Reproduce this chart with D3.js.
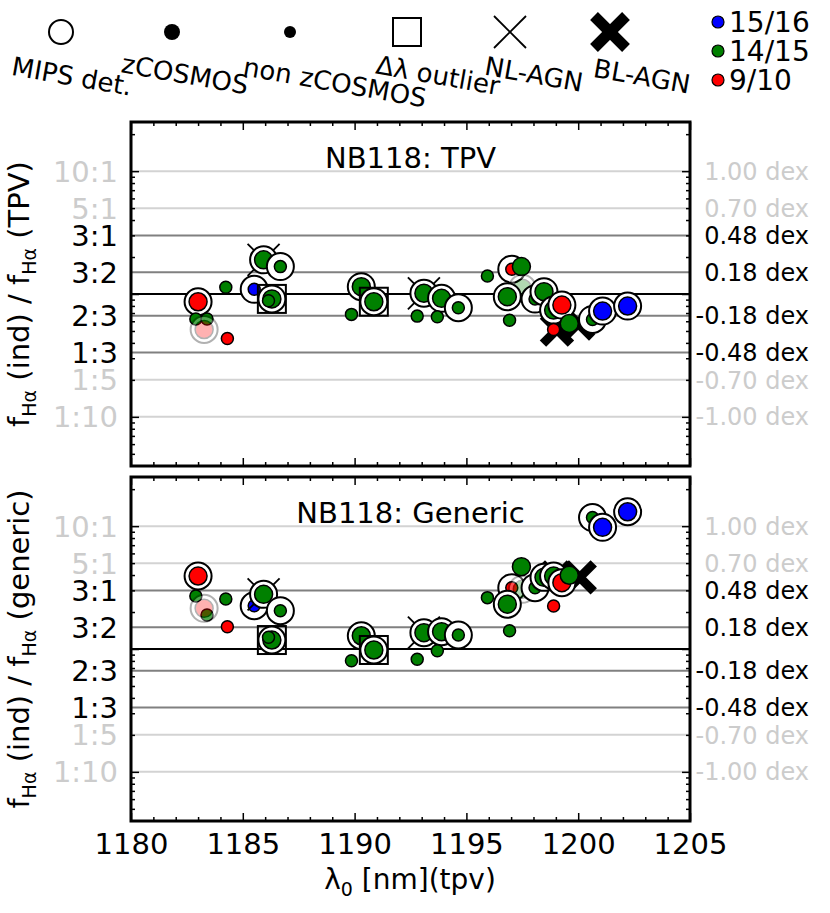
<!DOCTYPE html>
<html><head><meta charset="utf-8">
<script src="https://cdn.jsdelivr.net/npm/d3@7"></script>
<style>body{margin:0;background:#fff}svg{font-family:"DejaVu Sans",sans-serif}</style>
</head><body><svg id="c" width="830" height="913"></svg>
<script>
// ---- data ----
const lam        = [1183.0,1182.9,1183.4,1183.27,1184.31,1184.24,1185.51,1185.93,1186.68,1186.3,1186.15,1190.3,1190.86,1189.86,1193.1,1193.89,1193.7,1192.8,1194.64,1195.94,1197.03,1197.46,1197.5,1196.83,1196.93,1198.07,1198.47,1198.9,1199.27,1198.9,1199.6,1200.64,1201.09,1202.21];
const dexTPV     = [-0.063,-0.204,-0.204,-0.289,-0.362,0.055,0.038,0.278,0.223,-0.04,-0.055,0.06,-0.063,-0.166,0.006,-0.035,-0.186,-0.18,-0.112,0.147,0.202,0.223,0.047,-0.022,-0.213,-0.041,0.019,-0.131,-0.09,-0.289,-0.24,-0.207,-0.139,-0.098];
const dexGeneric = [0.594,0.431,0.277,0.331,0.181,0.407,0.352,0.445,0.312,0.073,0.095,0.108,-0.008,-0.095,0.133,0.141,-0.014,-0.084,0.114,0.418,0.499,0.670,0.486,0.365,0.149,0.499,0.583,0.594,0.54,0.35,0.60,1.07,0.99,1.117];
const zClass     = ["9/10","14/15","14/15","9/10","9/10","14/15","15/16","14/15","14/15","14/15","14/15","14/15","14/15","14/15","14/15","14/15","14/15","14/15","14/15","14/15","9/10","14/15","14/15","14/15","14/15","14/15","14/15","14/15","9/10","9/10","14/15","14/15","15/16","15/16"];
const zCOSMOS    = [1,0,0,1,0,0,0,1,0,1,0,1,1,0,1,1,0,0,0,0,0,1,1,1,0,0,1,1,1,0,1,0,1,1];
const mipsDet    = [1,0,0,1,0,0,1,1,1,1,0,1,1,0,1,1,0,0,1,0,1,0,1,1,0,1,1,1,1,0,0,1,1,1];
const dlOutlier  = [0,0,0,0,0,0,0,0,0,1,0,0,1,0,0,0,0,0,0,0,0,0,0,0,0,0,0,0,0,0,0,0,0,0];
const nlAGN      = [0,0,0,0,0,0,0,1,0,0,0,0,0,0,1,0,0,0,0,0,0,0,0,0,0,0,0,0,0,0,0,0,0,0];
const faded      = [0,0,0,1,0,0,0,0,0,0,0,0,0,0,0,0,0,0,0,0,0,0,1,0,0,0,0,0,0,0,0,0,0,0];
const blLamTPV = [1199.05,1200.0], blDexTPV = [-0.29,-0.24];
const blLamGen = [1199.0,1200.07], blDexGen = [0.583,0.583];
const classes = ["15/16","14/15","9/10"];
const classColors = ["#0000ff","#008000","#ff0000"];
const ratioVals   = [10,5,3,1.5,2/3,1/3,0.2,0.1];
const ratioLabels = ["10:1","5:1","3:1","3:2","2:3","1:3","1:5","1:10"];
const dexLabels   = [" 1.00 dex"," 0.70 dex"," 0.48 dex"," 0.18 dex","-0.18 dex","-0.48 dex","-0.70 dex","-1.00 dex"];
const labelFaint  = [1,1,0,0,0,0,1,1];
const xTicks = [1180,1185,1190,1195,1200,1205];
const legendNames = ["MIPS det.","zCOSMOS","non zCOSMOS","\u0394\u03bb outlier","NL-AGN","BL-AGN"];

// ---- layout ----
const svg = d3.select("#c");
const L = 131, R = 690;
const x = d3.scaleLinear().domain([1180,1205]).range([L,R]);
const col = d3.scaleOrdinal().domain(classes).range(classColors);
const faint = "#cccccc";

function panel(top, bottom, dex, blL, blD, title, ytitle, showX) {
  const y = d3.scaleLog().domain([Math.pow(10,-1.4), Math.pow(10,1.4)]).range([bottom, top]);
  const Y = d => y(Math.pow(10, d));
  const g = svg.append("g");
  const lineVals = [1, ...ratioVals];
  lineVals.forEach((v,i) => {
    const idx = i - 1;
    const c = v === 1 ? "#000" : (labelFaint[idx] ? "#d3d3d3" : "#808080");
    g.append("line").attr("x1",L).attr("x2",R).attr("y1",y(v)).attr("y2",y(v))
      .attr("stroke",c).attr("stroke-width",2);
  });
  const m = g.append("g");
  lam.forEach((l,i) => {
    const px = x(l), py = Y(dex[i]);
    const pg = m.append("g").attr("opacity", faded[i] ? 0.3 : 1);
    if (dlOutlier[i]) pg.append("rect").attr("x",px-14).attr("y",py-14).attr("width",28).attr("height",28)
        .attr("fill","none").attr("stroke","#000").attr("stroke-width",2);
    if (nlAGN[i]) { [[-1,-1,1,1],[-1,1,1,-1]].forEach(s => pg.append("line")
        .attr("x1",px+s[0]*16).attr("y1",py+s[1]*16).attr("x2",px+s[2]*16).attr("y2",py+s[3]*16)
        .attr("stroke","#000").attr("stroke-width",1.8)); }
    if (mipsDet[i]) pg.append("circle").attr("cx",px).attr("cy",py).attr("r",13.5)
        .attr("fill","#fff").attr("stroke","#000").attr("stroke-width",2);
    pg.append("circle").attr("cx",px).attr("cy",py).attr("r", zCOSMOS[i] ? 9 : 6)
      .attr("fill", col(zClass[i])).attr("stroke","#000").attr("stroke-width",1.5);
  });
  blL.forEach((l,i) => {
    const px = x(l), py = Y(blD[i]);
    [[-1,-1,1,1],[-1,1,1,-1]].forEach(s => m.insert("line", ":first-child")
      .attr("x1",px+s[0]*14).attr("y1",py+s[1]*14).attr("x2",px+s[2]*14).attr("y2",py+s[3]*14)
      .attr("stroke","#000").attr("stroke-width",9));
  });
  const majorY = [0.1,1,10];
  const minorY = [];
  [-2,-1,0,1].forEach(n => { for (let k=2;k<=9;k++){ const v=k*Math.pow(10,n); if (v>Math.pow(10,-1.4) && v<Math.pow(10,1.4)) minorY.push(v);} });
  const minorX = d3.range(1181,1205).filter(v => v%5 !== 0);
  const addAxis = (ax, tr) => { const a = g.append("g").attr("transform",tr).call(ax);
      a.select(".domain").remove(); a.selectAll("line").attr("stroke-width",1.5); return a; };
  addAxis(d3.axisLeft(y).tickValues(majorY).tickSize(-8).tickFormat(""), `translate(${L},0)`);
  addAxis(d3.axisLeft(y).tickValues(minorY).tickSize(-4).tickFormat(""), `translate(${L},0)`);
  addAxis(d3.axisRight(y).tickValues(majorY).tickSize(-8).tickFormat(""), `translate(${R},0)`);
  addAxis(d3.axisRight(y).tickValues(minorY).tickSize(-4).tickFormat(""), `translate(${R},0)`);
  addAxis(d3.axisTop(x).tickValues(xTicks).tickSize(-8).tickFormat(""), `translate(0,${top})`);
  addAxis(d3.axisTop(x).tickValues(minorX).tickSize(-4).tickFormat(""), `translate(0,${top})`);
  const bx = addAxis(d3.axisBottom(x).tickValues(xTicks).tickSize(-8).tickPadding(12)
      .tickFormat(showX ? d3.format("d") : ""), `translate(0,${bottom})`);
  bx.selectAll("text").attr("font-size",29).attr("fill","#000").attr("font-family","DejaVu Sans");
  addAxis(d3.axisBottom(x).tickValues(minorX).tickSize(-4).tickFormat(""), `translate(0,${bottom})`);
  g.append("rect").attr("x",L).attr("y",top).attr("width",R-L).attr("height",bottom-top)
    .attr("fill","none").attr("stroke","#000").attr("stroke-width",3);
  ratioVals.forEach((v,i) => {
    g.append("text").attr("x",118).attr("y",y(v)).attr("dy","0.36em").attr("text-anchor","end")
      .attr("font-size",29).attr("fill", labelFaint[i] ? faint : "#000").text(ratioLabels[i]);
    g.append("text").attr("x",809).attr("y",y(v)).attr("dy","0.36em").attr("text-anchor","end")
      .attr("font-size",24).attr("fill", labelFaint[i] ? faint : "#000")
      .attr("xml:space","preserve").style("white-space","pre").text(dexLabels[i]);
  });
  g.append("text").attr("x",(L+R)/2).attr("y",top+46).attr("text-anchor","middle")
    .attr("font-size",29).text(title);
  const yt = g.append("text").attr("transform",`translate(29,${(top+bottom)/2}) rotate(-90)`)
    .attr("text-anchor","middle").attr("font-size",29);
  yt.append("tspan").text("f");
  yt.append("tspan").attr("font-size",19).attr("dy",7).text("H\u03b1");
  yt.append("tspan").attr("dy",-7).text(" (ind) / f");
  yt.append("tspan").attr("font-size",19).attr("dy",7).text("H\u03b1");
  yt.append("tspan").attr("dy",-7).text(" (" + ytitle + ")");
}

panel(122, 466, dexTPV, blLamTPV, blDexTPV, "NB118: TPV", "TPV", false);
panel(477, 821, dexGeneric, blLamGen, blDexGen, "NB118: Generic", "generic", true);

const xt = svg.append("text").attr("x",410).attr("y",889).attr("text-anchor","middle").attr("font-size",28);
xt.append("tspan").text("\u03bb");
xt.append("tspan").attr("font-size",19).attr("dy",7).text("0");
xt.append("tspan").attr("dy",-7).text(" [nm](tpv)");

const lg = svg.append("g");
const ly = 32;
const lx = [61, 172, 290, 407, 510, 610];
lg.append("circle").attr("cx",lx[0]).attr("cy",ly).attr("r",12).attr("fill","#fff").attr("stroke","#000").attr("stroke-width",2);
lg.append("circle").attr("cx",lx[1]).attr("cy",ly).attr("r",8).attr("fill","#000");
lg.append("circle").attr("cx",lx[2]).attr("cy",ly).attr("r",6).attr("fill","#000");
lg.append("rect").attr("x",lx[3]-14).attr("y",ly-14).attr("width",28).attr("height",28).attr("fill","none").attr("stroke","#000").attr("stroke-width",2);
[[-1,-1,1,1],[-1,1,1,-1]].forEach(s => {
  lg.append("line").attr("x1",lx[4]+s[0]*16).attr("y1",ly+s[1]*16).attr("x2",lx[4]+s[2]*16).attr("y2",ly+s[3]*16).attr("stroke","#000").attr("stroke-width",1.8);
  lg.append("line").attr("x1",lx[5]+s[0]*16).attr("y1",ly+s[1]*16).attr("x2",lx[5]+s[2]*16).attr("y2",ly+s[3]*16).attr("stroke","#000").attr("stroke-width",11);
});
const labC = [[72,76],[185,74],[335,82],[438,75],[534,74],[642,76]];
legendNames.forEach((t,i) => {
  lg.append("text").attr("transform",`translate(${labC[i][0]},${labC[i][1]}) rotate(10)`)
    .attr("text-anchor","middle").attr("dy","0.36em").attr("font-size",26).text(t);
});
classes.forEach((c,i) => {
  const yy = 22 + i*29;
  lg.append("circle").attr("cx",718).attr("cy",yy).attr("r",6).attr("fill",classColors[i]).attr("stroke","#000").attr("stroke-width",1.2);
  lg.append("text").attr("x",729).attr("y",yy).attr("dy","0.36em").attr("font-size",28).text(c);
});
</script></body></html>
